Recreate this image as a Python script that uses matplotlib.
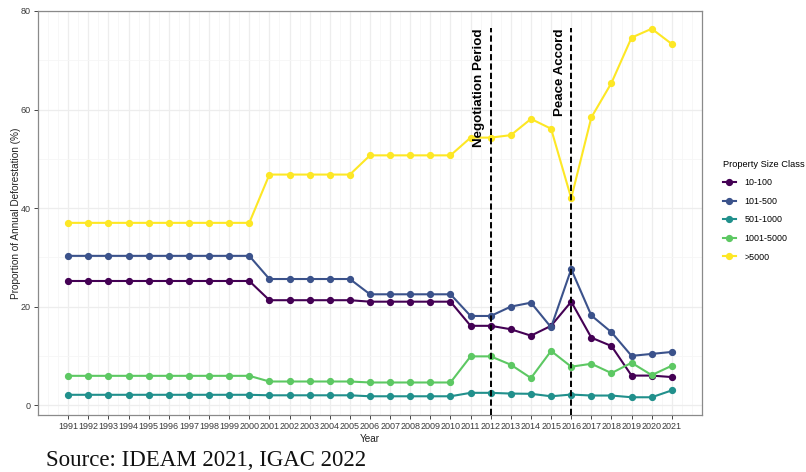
import matplotlib
matplotlib.use("Agg")
import matplotlib.pyplot as plt
from matplotlib.lines import Line2D
from matplotlib.ticker import MultipleLocator

years = list(range(1991, 2022))

size_classes = ["10-100", "101-500", "501-1000", "1001-5000", ">5000"]
class_colors = ["#440154", "#3B528B", "#21908C", "#5DC863", "#FDE725"]

share_10_100 = [25.2] * 10 + [21.3] * 5 + [21.0] * 5 + [
    16.1, 16.1, 15.4, 14.1, 16.1, 21.0, 13.7, 12.0, 6.0, 6.0, 5.7]
share_101_500 = [30.3] * 10 + [25.6] * 5 + [22.5] * 5 + [
    18.1, 18.1, 20.0, 20.8, 15.8, 27.6, 18.2, 14.8, 10.0, 10.4, 10.8]
share_501_1000 = [2.1] * 10 + [2.0] * 5 + [1.8] * 5 + [
    2.5, 2.5, 2.35, 2.3, 1.8, 2.15, 1.95, 1.95, 1.6, 1.6, 3.0]
share_1001_5000 = [5.95] * 10 + [4.8] * 5 + [4.6] * 5 + [
    9.9, 9.9, 8.2, 5.5, 11.0, 7.8, 8.4, 6.5, 8.6, 6.1, 8.0]
share_over_5000 = [37.0] * 10 + [46.8] * 5 + [50.7] * 5 + [
    54.3, 54.3, 54.8, 58.1, 56.1, 42.0, 58.4, 65.4, 74.6, 76.4, 73.3]

series = [share_10_100, share_101_500, share_501_1000, share_1001_5000, share_over_5000]

event_years = [2012, 2016]
event_labels = ["Negotiation Period", "Peace Accord"]
event_top = 76.5

fig = plt.figure(figsize=(8.06, 4.72), dpi=100)
ax = fig.add_axes([38 / 806, 1 - 415 / 472, 664 / 806, 404 / 472])

sans = ["Liberation Sans", "DejaVu Sans"]

for vals, col in zip(series, class_colors):
    ax.plot(years, vals, color=col, lw=1.5, marker="o", ms=4.2, zorder=3)

for yr, lab in zip(event_years, event_labels):
    ax.vlines(yr, -2, event_top, colors="black", linestyles=(0, (3.2, 1.6)), lw=1.4, zorder=4)
    ax.text(yr - 0.58, event_top, lab, rotation=90, ha="center", va="top",
            fontsize=9.6, fontweight="bold", family=sans, zorder=5)

ax.set_xlim(1989.5, 2022.5)
ax.set_ylim(-2, 80)
ax.set_xticks(years)
ax.set_xticklabels([str(y) for y in years])
ax.xaxis.set_minor_locator(MultipleLocator(0.5))
ax.set_yticks([0, 20, 40, 60, 80])
ax.yaxis.set_minor_locator(MultipleLocator(10))

ax.grid(which="major", color="#EDEDED", lw=0.9, zorder=0)
ax.grid(which="minor", color="#F6F6F6", lw=0.6, zorder=0)
ax.set_axisbelow(True)
ax.tick_params(which="minor", length=0)
ax.tick_params(which="major", length=3, width=0.7, color="#444444", pad=2,
               labelsize=6.5, labelcolor="#3a3a3a")
for lbl in ax.get_xticklabels() + ax.get_yticklabels():
    lbl.set_family(sans)
for sp in ax.spines.values():
    sp.set_color("#8a8a8a")
    sp.set_linewidth(0.9)

ax.set_xlabel("Year", fontsize=7.2, family=sans, color="#222222", labelpad=2)
ax.set_ylabel("Proportion of Annual Deforestation (%)", fontsize=7.2, family=sans,
              color="#222222", labelpad=0)

handles = [Line2D([0], [0], color=c, lw=1.5, marker="o", ms=4.2) for c in class_colors]
leg = fig.legend(handles, size_classes, loc="upper left", bbox_to_anchor=(719 / 806, 1 - 156 / 472),
                 frameon=False, title="Property Size Class", handlelength=1.5,
                 handletextpad=0.95, labelspacing=1.08, borderaxespad=0,
                 prop={"family": sans, "size": 6.4})
leg.get_title().set_fontsize(6.7)
leg.get_title().set_family(sans)
leg._legend_box.align = "left"

fig.text(46 / 806, 1 - 460 / 472, "Source: IDEAM 2021, IGAC 2022", fontsize=16.5,
         family=["Liberation Serif", "DejaVu Serif"], va="center", ha="left", color="#111111")

fig.savefig("out.png", dpi=100)
